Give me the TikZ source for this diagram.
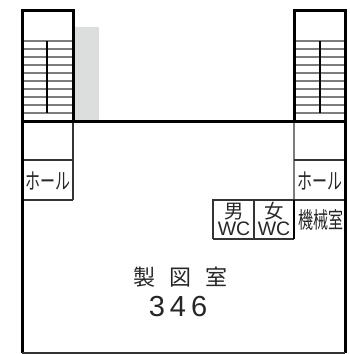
\documentclass[tikz,border=0pt]{standalone}
\usepackage{xcolor}
\usepackage{graphicx}
\usepackage{fontspec}
\setmainfont{Liberation Sans}
\newfontfamily\jpfont{Noto Sans CJK JP}
\usetikzlibrary{positioning, calc}
\definecolor{voidgray}{RGB}{220,222,222}
\definecolor{treadgray}{RGB}{125,125,125}
\newcommand{\tallkana}[2]{\scalebox{1}[#1]{#2}}

\begin{document}
\begin{tikzpicture}[
    x=1pt, y=-1pt,
    wall/.style={draw=black, line width=3pt},
    partition/.style={draw=black!80, line width=1.2pt},
    thinwall/.style={draw=black!80, line width=1.1pt},
    tread/.style={draw=treadgray, line width=1.5pt},
    stairmid/.style={draw=black, line width=1.1pt},
    roomlabel/.style={font=\jpfont\fontsize{15}{15}\selectfont, text=black!85, inner sep=0pt},
    wclabel/.style={font=\fontsize{19.5}{18}\selectfont, text=black!85, align=center, inner sep=0pt},
    biglabel/.style={font=\jpfont\fontsize{22}{22}\selectfont, text=black!85, inner sep=0pt}
]
    \useasboundingbox (0,0) rectangle (349,354);
    % void beside the left stair
    \fill[voidgray] (73,27) rectangle (99,120);

    % stair treads
    \foreach \y in {41,49,...,113} {
        \draw[tread] (22,\y) -- (73,\y);
        \draw[tread] (294,\y) -- (345,\y);
    }
    \draw[tread] (294,121) -- (294,200);
    \draw[stairmid] (47,41) -- (47,113);
    \draw[stairmid] (320,41) -- (320,113);

    % halls
    \draw[thinwall] (73,121) -- (73,200);
    \draw[thinwall] (22,160) -- (73,160);
    \draw[thinwall] (22,200) -- (73,200);
    \draw[thinwall] (294,160) -- (345,160);
    \draw[thinwall] (294,200) -- (345,200);

    % toilets
    \draw[partition] (213,239) -- (213,200) -- (294,200);
    \draw[partition] (213,239) -- (294,239);
    \draw[partition] (254,200) -- (254,239);
    \draw[draw=black, line width=1.4pt] (294,200) -- (294,239);

    % outer walls
    \draw[wall] (22,353) -- (22,10) -- (73,10) -- (73,121);
    \draw[wall] (345,353) -- (345,10) -- (294,10) -- (294,121);
    \draw[wall] (22,121) -- (345,121);
    \draw[draw=black!80, line width=1.4pt] (22,353) -- (345,353);

    % labels
    \node[roomlabel] (hallL) at (47.5,181) {\tallkana{1.5}{ホール}};
    \node[roomlabel] (hallR) at (320,181) {\tallkana{1.5}{ホール}};
    \node[wclabel] (wcM) at (234,219) {{\jpfont 男}\\[-1pt]WC};
    \node[wclabel] (wcF) at (274,219) {{\jpfont 女}\\[-1pt]WC};
    \node[roomlabel] (machine) at (320.5,220) {\tallkana{1.5}{機械室}};
    \node[biglabel] (draft) at (180.5,277) {製\hspace{14pt}図\hspace{14pt}室};
    \node[font=\fontsize{29}{29}\selectfont, text=black!85, inner sep=0pt] (roomno) at (178,306.5) {3\hspace{5pt}4\hspace{5pt}6};
\end{tikzpicture}
\end{document}
